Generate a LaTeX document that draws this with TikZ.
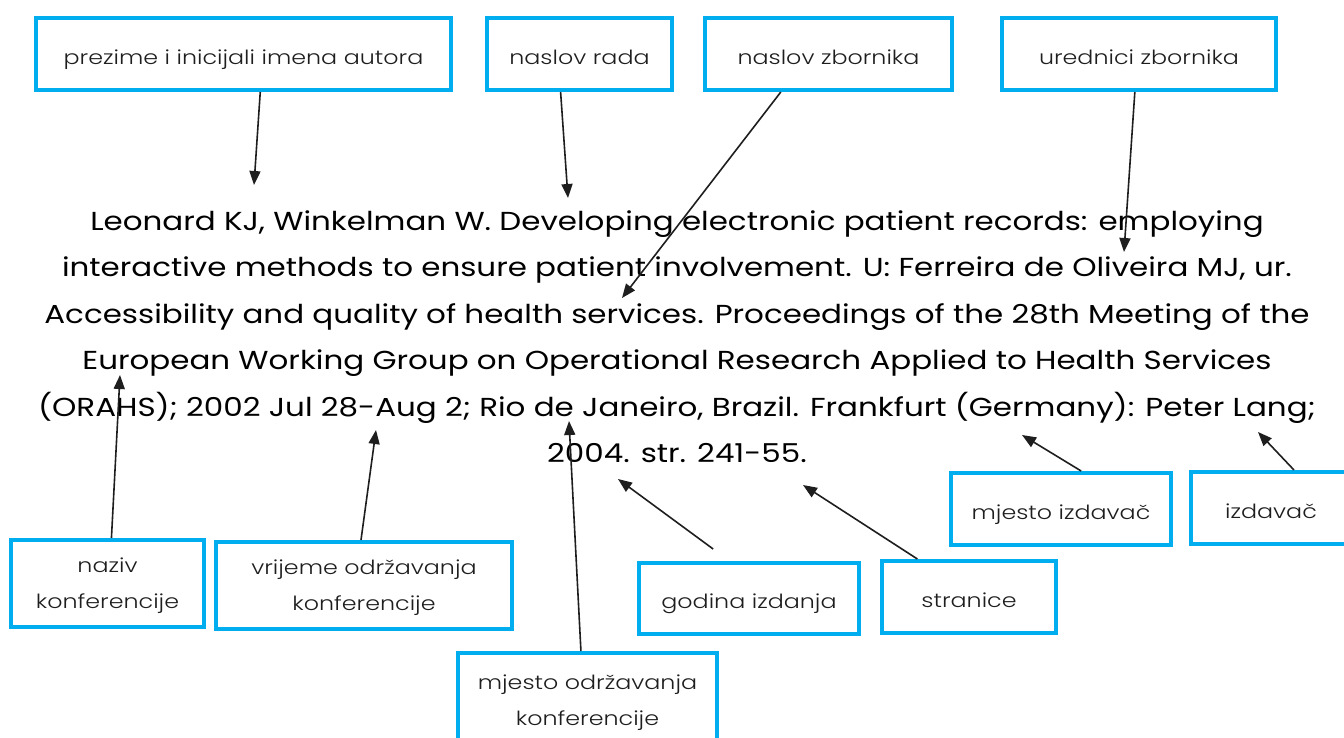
\documentclass[tikz,border=0pt]{standalone}
\usepackage{fontspec}
\setmainfont{Poppins}
\newfontfamily\reffont{Poppins}[FakeStretch=1.19]
\newfontfamily\lblfont{Poppins}[UprightFont=* Light, FakeStretch=1.22]
\usetikzlibrary{arrows.meta,calc}
\definecolor{boxblue}{HTML}{00AEEF}
\definecolor{ink}{HTML}{1E1E1E}
\tikzset{
  lbl/.style={draw=boxblue, line width=4pt, fill=white, inner sep=0pt, align=center,
    font=\lblfont\fontsize{19.5}{36}\selectfont, text=ink, text depth=0pt,
    execute at begin node={\rule{0pt}{20pt}}},
  ref/.style={inner sep=0pt, anchor=base, font=\reffont\fontsize{26}{32}\selectfont, text=black},
  arr/.style={draw=ink, line width=1.6pt, -{Triangle[length=14pt,width=11pt]}}
}
\begin{document}
\begin{tikzpicture}[x=1pt,y=-1pt]
\useasboundingbox (0,0) rectangle (1344,737);
% reference text
\node[ref] (l1) at (677,230) {Leonard KJ, Winkelman W. Developing electronic patient records: employing};
\node[ref] (l2) at (677,276) {interactive methods to ensure patient involvement. U: Ferreira de Oliveira MJ, ur.};
\node[ref] (l3) at (677,323) {Accessibility and quality of health services. Proceedings of the 28th Meeting of the};
\node[ref] (l4) at (677,369) {European Working Group on Operational Research Applied to Health Services};
\node[ref] (l5) at (677,416) {(ORAHS); 2002 Jul 28-Aug 2; Rio de Janeiro, Brazil. Frankfurt (Germany): Peter Lang;};
\node[ref] (l6) at (677,462) {2004. str. 241-55.};
% label boxes
\node[lbl, minimum width=415pt, minimum height=72pt] (prez) at (243.5,54) {prezime i inicijali imena autora};
\node[lbl, minimum width=185pt, minimum height=72pt] (rada) at (579.5,54) {naslov rada};
\node[lbl, minimum width=247pt, minimum height=72pt] (zbor) at (828.5,54) {naslov zbornika};
\node[lbl, minimum width=274pt, minimum height=72pt] (ured) at (1139,54) {urednici zbornika};
\node[lbl, minimum width=193pt, minimum height=87pt] (naziv) at (107.5,583.5) {naziv\\konferencije};
\node[lbl, minimum width=296pt, minimum height=87pt] (vrij) at (364,585.5) {vrijeme održavanja\\konferencije};
\node[lbl, minimum width=259pt, minimum height=94pt] (modr) at (587.5,700) {mjesto održavanja\\konferencije};
\node[lbl, minimum width=220pt, minimum height=71pt] (god) at (749,598.5) {godina izdanja};
\node[lbl, minimum width=174pt, minimum height=72pt] (str) at (969,597) {stranice};
\node[lbl, minimum width=220pt, minimum height=72pt] (mizd) at (1061,509) {mjesto izdavač};
\node[lbl, minimum width=160pt, minimum height=72pt] (izd) at (1271,508) {izdavač};
% arrow targets
\coordinate (tprez) at (254,185);
\coordinate (trada) at (568,198);
\coordinate (tzbor) at (622,298);
\coordinate (tured) at (1124,252);
\coordinate (tnaziv) at (120,375);
\coordinate (tvrij) at (376,430);
\coordinate (tmodr) at (569,421);
\coordinate (tgod) at (618,479);
\coordinate (tstr) at (803,485);
\coordinate (tmizd) at (1022,435);
\coordinate (tizd) at (1258,432);
% connectors
\draw[arr] ($(prez.south west)!0.54!(prez.south east)$) -- (tprez);
\draw[arr] ($(rada.south west)!0.40!(rada.south east)$) -- (trada);
\draw[arr] ($(zbor.south west)!0.31!(zbor.south east)$) -- (tzbor);
\draw[arr] ($(ured.south west)!0.485!(ured.south east)$) -- (tured);
\draw[arr] ($(naziv.north west)!0.52!(naziv.north east)$) -- (tnaziv);
\draw[arr] ($(vrij.north west)!0.49!(vrij.north east)$) -- (tvrij);
\draw[arr] ($(modr.north west)!0.475!(modr.north east)$) -- (tmodr);
\draw[arr] ($(god.north west)!0.34!(god.north east)$) ++(0,-12) -- (tgod);
\draw[arr] ($(str.north west)!0.21!(str.north east)$) -- (tstr);
\draw[arr] ($(mizd.north west)!0.59!(mizd.north east)$) -- (tmizd);
\draw[arr] ($(izd.north west)!0.64!(izd.north east)$) -- (tizd);
\end{tikzpicture}
\end{document}
